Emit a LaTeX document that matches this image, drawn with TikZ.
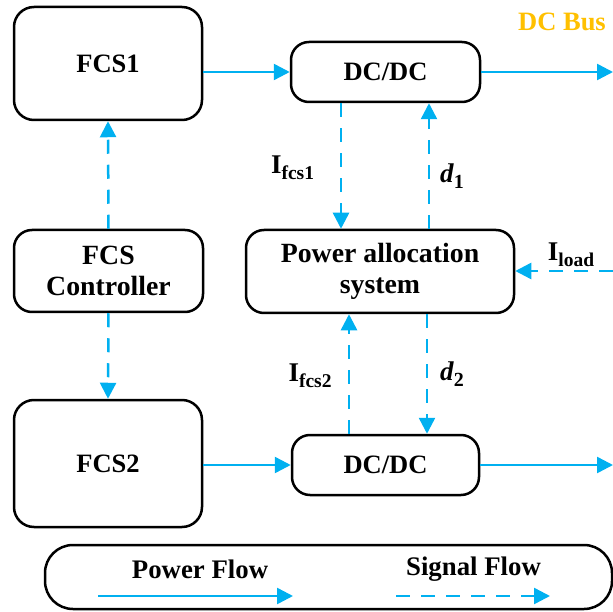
\documentclass[tikz,border=0pt]{standalone}
\usepackage{fontspec}
\setmainfont{Liberation Serif}
\usetikzlibrary{arrows.meta}
\definecolor{flow}{RGB}{0,176,240}
\definecolor{bus}{RGB}{255,192,0}
\begin{document}
\begin{tikzpicture}[x=1pt,y=-1pt,
  box/.style={draw,line width=2.5pt,rounded corners=18pt,inner sep=0pt,font=\fontsize{26.5}{31}\selectfont\bfseries,align=center},
  bigtext/.style={font=\fontsize{27.8}{31}\selectfont\bfseries},
  pflow/.style={draw=flow,line width=2.5pt,-{Triangle[length=16pt,width=16pt,fill=flow]}},
  sflow/.style={pflow,dash pattern=on 14pt off 11pt},
  lbl/.style={font=\fontsize{27}{31}\selectfont\bfseries,inner sep=0pt}]
\useasboundingbox (0,0) rectangle (613,612);
% boxes
\node[box,minimum width=188pt,minimum height=113pt,rounded corners=20pt] (fcs1) at (108,63.5) {FCS1};
\node[box,minimum width=189pt,minimum height=60pt] (dc1) at (385.5,72) {DC/DC};
\node[box,bigtext,minimum width=189pt,minimum height=82pt] (ctrl) at (108.5,271) {FCS\\Controller};
\node[box,bigtext,minimum width=268pt,minimum height=83pt] (pa) at (380,271.5) {Power allocation\\system};
\node[box,minimum width=188pt,minimum height=127pt,rounded corners=20pt] (fcs2) at (108,463.5) {FCS2};
\node[box,minimum width=187pt,minimum height=60pt] (dc2) at (385.5,465) {DC/DC};
\node[box,minimum width=567pt,minimum height=64pt,rounded corners=28pt] (leg) at (328.5,577) {};
% coordinates
\coordinate (bus1) at (613,72);
\coordinate (bus2) at (613,465);
\coordinate (load) at (613,271);
\coordinate (xa) at (341,0);
\coordinate (xb) at (429,0);
\coordinate (xc) at (349,0);
\coordinate (xd) at (427,0);
% power flow
\draw[pflow] (fcs1.east |- dc1) -- (dc1.west);
\draw[pflow] (dc1.east) -- (bus1);
\draw[pflow] (fcs2.east |- dc2) -- (dc2.west);
\draw[pflow] (dc2.east) -- (bus2);
% signal flow
\draw[sflow] (ctrl.north) -- (fcs1.south);
\draw[sflow] (ctrl.south) -- (fcs2.north);
\draw[sflow] (dc1.south -| xa) -- (pa.north -| xa);
\draw[sflow] (pa.north -| xb) -- (dc1.south -| xb);
\draw[sflow] (dc2.north -| xc) -- (pa.south -| xc);
\draw[sflow] (pa.south -| xd) -- (dc2.north -| xd);
\draw[sflow] (load) -- (pa.east |- load);
% labels
\node[font=\fontsize{26.5}{29}\selectfont\bfseries,text=bus,inner sep=0pt] (busl) at (562,21.5) {DC Bus};
\node[lbl] (ifcs1) at (292.5,168) {I\raisebox{-6pt}{\fontsize{19.5}{20}\selectfont fcs1}};
\node[lbl] (d1) at (452,176) {\textit{d}\raisebox{-6pt}{\fontsize{20}{20}\selectfont 1}};
\node[lbl] (ifcs2) at (310,376) {I\raisebox{-6pt}{\fontsize{19.5}{20}\selectfont fcs2}};
\node[lbl] (d2) at (452,374) {\textit{d}\raisebox{-6pt}{\fontsize{20}{20}\selectfont 2}};
\node[lbl] (iload) at (571,255) {I\raisebox{-6pt}{\fontsize{19.5}{20}\selectfont load}};
% legend
\node[lbl,font=\fontsize{26.8}{31}\selectfont\bfseries] (pft) at (200,569) {Power Flow};
\node[lbl,font=\fontsize{26.8}{31}\selectfont\bfseries] (sft) at (473.5,569) {Signal Flow};
\coordinate (p1) at (98,596);
\coordinate (p2) at (293,596);
\coordinate (s1) at (396,596);
\coordinate (s2) at (550,596);
\draw[pflow] (p1) -- (p2);
\draw[sflow] (s1) -- (s2);
\end{tikzpicture}
\end{document}
